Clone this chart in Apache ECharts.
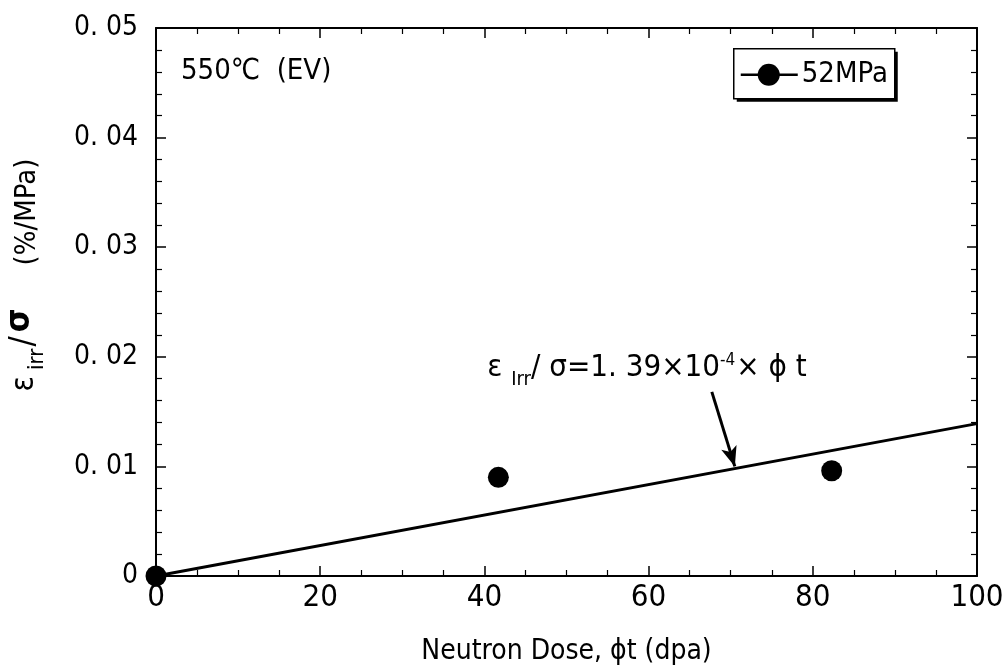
<!DOCTYPE html>
<html>
<head>
<meta charset="utf-8">
<script src="https://cdn.jsdelivr.net/npm/echarts@6/dist/echarts.min.js"></script>
<style>
  html, body { margin: 0; padding: 0; background: #fff; }
  #chart { width: 1003px; height: 667px; }
</style>
</head>
<body>
<div id="chart"></div>
<script>
// Measured creep compliance at 550°C versus neutron dose
const doseDpa = [0, 41.7, 82.3];
const strainPerStress = [0, 0.0090, 0.0096];
const seriesName = '52MPa';

// Linear fit: eps_irr / sigma = 1.39e-4 * dose
const fitSlope = 1.39e-4;
const fitDose = [0, 100];

// Arrow pointing at the fit line (start, tip) in data units
const arrowFrom = [67.7, 0.0168];
const arrowTo = [70.5, 0.0100];

const xTicks = [0, 20, 40, 60, 80, 100];
const yTicks = [0, 0.01, 0.02, 0.03, 0.04, 0.05];

const FONT = '"Liberation Sans Narrow", "DejaVu Sans Condensed", "Liberation Sans", sans-serif';

const chart = echarts.init(document.getElementById('chart'), null, { renderer: 'canvas' });

const axisLine = { show: true, onZero: false, lineStyle: { color: '#000', width: 2 } };
const axisTick = { show: true, inside: true, length: 10, lineStyle: { color: '#000', width: 1.5 } };
const xMinor = { show: true, splitNumber: 4, length: 6, lineStyle: { color: '#000', width: 1.2 } };
const yMinor = { show: true, splitNumber: 5, length: 6, lineStyle: { color: '#000', width: 1.2 } };

const xRange = { type: 'value', min: xTicks[0], max: xTicks[xTicks.length - 1], interval: xTicks[1] - xTicks[0] };
const yRange = { type: 'value', min: yTicks[0], max: yTicks[yTicks.length - 1], interval: yTicks[1] - yTicks[0] };

const option = {
  animation: false,
  backgroundColor: '#fff',
  grid: { left: 156, right: 26, top: 28, bottom: 91, containLabel: false, outerBoundsMode: 'none' },
  xAxis: [
    Object.assign({}, xRange, {
      position: 'bottom',
      name: 'Neutron Dose, \u03d5t (dpa)',
      nameLocation: 'middle', nameGap: 62,
      nameTextStyle: { fontFamily: FONT, fontSize: 28, color: '#000' },
      axisLabel: { fontFamily: FONT, fontSize: 31, color: '#000', margin: 6 },
      axisLine, axisTick, minorTick: xMinor, splitLine: { show: false }
    }),
    Object.assign({}, xRange, {
      position: 'top', axisLabel: { show: false },
      axisLine, axisTick, minorTick: xMinor, splitLine: { show: false }
    })
  ],
  yAxis: [
    Object.assign({}, yRange, {
      position: 'left',
      axisLabel: {
        fontFamily: FONT, fontSize: 28, color: '#000', margin: 18,
        formatter: v => (v === 0 ? '0' : v.toFixed(2).replace('.', '. '))
      },
      axisLine, axisTick, minorTick: yMinor, splitLine: { show: false }
    }),
    Object.assign({}, yRange, {
      position: 'right', axisLabel: { show: false },
      axisLine, axisTick, minorTick: yMinor, splitLine: { show: false }
    })
  ],
  series: [
    {
      name: 'fit',
      type: 'line',
      data: fitDose.map(d => [d, fitSlope * d]),
      showSymbol: false, symbol: 'none',
      lineStyle: { color: '#000', width: 2.8 },
      silent: true,
      markLine: {
        silent: true,
        symbol: ['none', 'arrow'],
        symbolSize: [12, 20],
        label: { show: false },
        lineStyle: { color: '#000', width: 3, type: 'solid' },
        data: [[{ coord: arrowFrom }, { coord: arrowTo }]]
      },
      z: 2
    },
    {
      name: seriesName,
      type: 'scatter',
      data: doseDpa.map((d, i) => [d, strainPerStress[i]]),
      symbol: 'circle', symbolSize: 21,
      itemStyle: { color: '#000', opacity: 1 },
      clip: false,
      z: 3
    }
  ]
};

chart.setOption(option);

// Legend box, annotations and the y-axis title
chart.setOption({
  graphic: [
    {
      type: 'group', left: 733, top: 48,
      children: [
        { type: 'rect', shape: { x: 3, y: 3, width: 161, height: 50 }, style: { fill: '#000' } },
        { type: 'rect', shape: { x: 0, y: 0, width: 161, height: 50 }, style: { fill: '#fff', stroke: '#000', lineWidth: 1.5 } },
        { type: 'line', shape: { x1: 7, y1: 26, x2: 64, y2: 26 }, style: { stroke: '#000', lineWidth: 2.5 } },
        { type: 'circle', shape: { cx: 35, cy: 26, r: 11 }, style: { fill: '#000' } },
        { type: 'text', x: 68, y: 26, style: { text: seriesName, fontFamily: FONT, fontSize: 29, fill: '#000', verticalAlign: 'middle' } }
      ]
    },
    {
      type: 'text', left: 181, top: 57,
      style: { text: '550\u2103  (EV)', fontFamily: FONT, fontSize: 29, fill: '#000' }
    },
    {
      type: 'text',
      x: 647, y: 392,
      style: {
        text: '{m|\u03b5 }{s|Irr}{m|/ \u03c3=1. 39\u00d710}{p|-4}{m|\u00d7 \u03d5 t}',
        align: 'center', verticalAlign: 'bottom',
        rich: {
          m: { fontFamily: FONT, fontSize: 31, fill: '#000', verticalAlign: 'top', lineHeight: 40 },
          s: { fontFamily: FONT, fontSize: 20, fill: '#000', verticalAlign: 'top', lineHeight: 40, padding: [18, 0, 0, 0] },
          p: { fontFamily: FONT, fontSize: 17, fill: '#000', verticalAlign: 'top', lineHeight: 40, padding: [0, 1, 0, 0] }
        }
      }
    },
    {
      type: 'text',
      x: 28, y: 350,
      rotation: Math.PI / 2,
      style: {
        text: '{m|\u03b5}{s|irr}{d|/}{b|\u03c3}',
        align: 'center', verticalAlign: 'middle',
        rich: {
          m: { fontFamily: FONT, fontSize: 32, fill: '#000', verticalAlign: 'top', lineHeight: 38, padding: [0, 6, 0, 0] },
          s: { fontFamily: FONT, fontSize: 22, fill: '#000', verticalAlign: 'top', lineHeight: 38, padding: [17, 2, 0, 0] },
          d: { fontFamily: FONT, fontSize: 34, fill: '#000', verticalAlign: 'top', lineHeight: 38, padding: [-2, 4, 0, 0] },
          b: { fontFamily: FONT, fontSize: 34, fontWeight: 'bold', fill: '#000', verticalAlign: 'top', lineHeight: 38, padding: [-6, 0, 0, 0] }
        }
      }
    },
    {
      type: 'text',
      x: 27, y: 212,
      rotation: Math.PI / 2,
      style: { text: '(%/MPa)', fontFamily: FONT, fontSize: 29, fill: '#000', align: 'center', verticalAlign: 'middle' }
    }
  ]
});
</script>
</body>
</html>
